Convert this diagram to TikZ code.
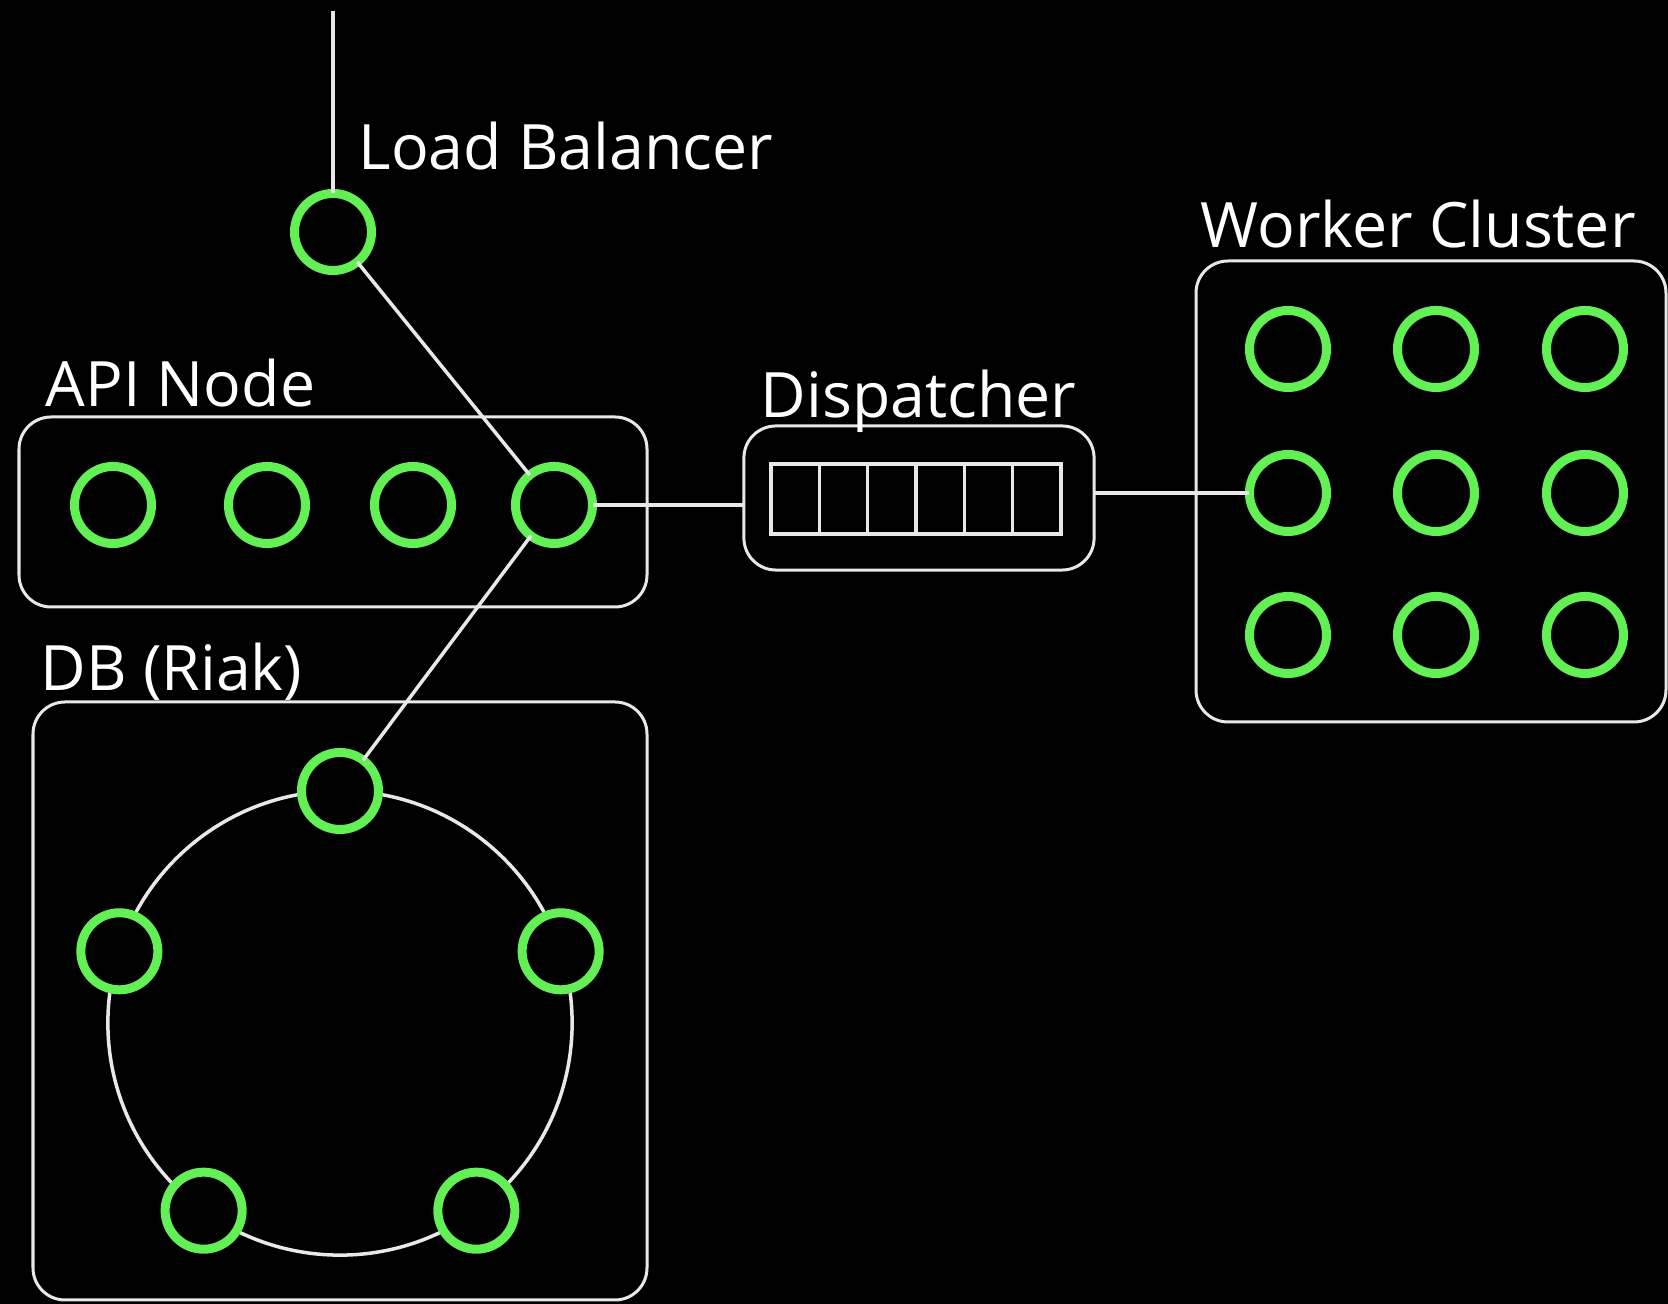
\documentclass[tikz,border=0pt]{standalone}
\usepackage{fontspec}
\setmainfont{Open Sans}
\usetikzlibrary{calc}

\definecolor{srvgreen}{RGB}{98,240,84}
\definecolor{linegray}{RGB}{232,232,232}

\tikzset{
    srv/.style={circle, draw=srvgreen, line width=0.09cm, fill=black,
        minimum size=0.77cm, inner sep=0pt, outer sep=0pt},
    wire/.style={draw=linegray, line width=0.035cm},
    box/.style={draw=linegray, line width=0.03cm, rounded corners=0.32cm},
    lbl/.style={text=white, anchor=base west, inner sep=0pt,
        font=\fontsize{17.8}{20}\selectfont}
}

\begin{document}
\begin{tikzpicture}[x=0.01cm, y=-0.01cm]

% Background
\fill[black] (0,0) rectangle (1668,1304);
\useasboundingbox (0,0) rectangle (1668,1304);

% Boxes
\draw[box] (19,417) rectangle (647,607);
\draw[box] (1196,261) rectangle (1666,722);
\draw[box] (33,702) rectangle (647,1300);
\node[box, minimum width=3.5cm, minimum height=1.44cm, inner sep=0pt, outer sep=0pt]
    (disp) at (919,498) {};

% Labels
\node[lbl] (lblLB) at (358,170) {Load Balancer};
\node[lbl] (lblAPI) at (45,407) {API Node};
\node[lbl] (lblDisp) at (760,418) {Dispatcher};
\node[lbl] (lblWork) at (1200,248) {Worker Cluster};
\node[lbl] (lblDB) at (40,691) {DB (Riak)};

% Queue
\draw[wire] (771,464) rectangle (1061,534);
\foreach \i in {1,...,5}
    \draw[wire] ({771+\i*290/6},464) -- ++(0,70);

% Load balancer
\coordinate (inlet) at (333,11);
\node[srv] (lb) at (333,232) {};
\draw[wire] (inlet) -- (lb);

% DB ring
\coordinate (ring) at (340,1023);
\draw[wire] (ring) circle (2.32cm);
\foreach \a [count=\i] in {270,198,126,54,342}
    \node[srv] (db\i) at ($(ring)+(\a:232)$) {};

% API nodes
\foreach \x [count=\i] in {113,267,413,554}
    \node[srv] (api\i) at (\x,505) {};

% Workers
\foreach \c/\x in {1/1288,2/1436,3/1585}
    \foreach \r/\y in {1/349,2/493,3/635}
        \node[srv] (w\r\c) at (\x,\y) {};

% Connectors
\draw[wire] (lb) -- (api4);
\draw[wire] (api4) -- (db1);
\draw[wire] (api4) -- (api4 -| disp.west);
\draw[wire] (disp.east |- w21) -- (w21);

\end{tikzpicture}
\end{document}
